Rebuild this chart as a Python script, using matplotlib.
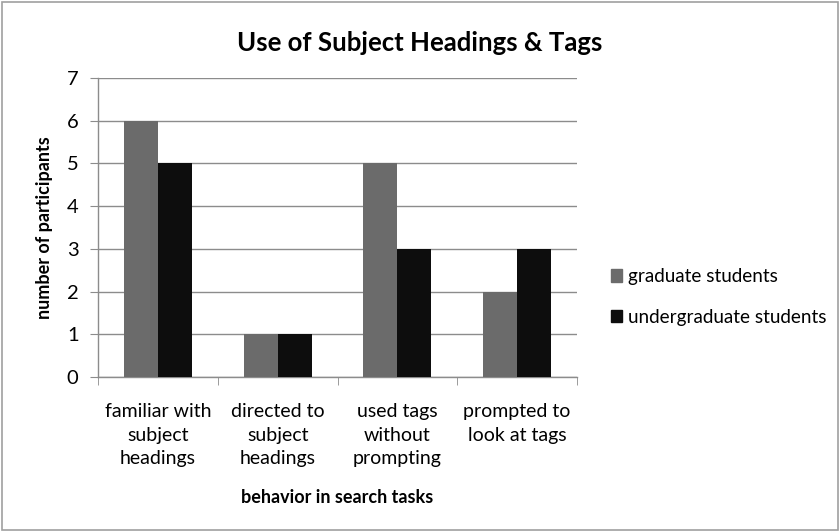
import matplotlib.pyplot as plt
from matplotlib.patches import Patch, Rectangle

plt.rcParams['font.family'] = ['Lato', 'DejaVu Sans']

categories = ['familiar with\nsubject\nheadings', 'directed to\nsubject\nheadings',
              'used tags\nwithout\nprompting', 'prompted to\nlook at tags']
graduate = [6, 1, 5, 2]
undergraduate = [5, 1, 3, 3]
series_names = ['graduate students', 'undergraduate students']
colors = ['#6b6b6b', '#0d0d0d']

fig = plt.figure(figsize=(8.4, 5.32), dpi=100)
fig.patches.append(Rectangle((0.002, 0.003), 0.996, 0.994, transform=fig.transFigure,
                             fill=False, edgecolor='#a0a0a0', linewidth=1.2))
ax = fig.add_axes([0.1167, 0.2914, 0.5702, 0.562])

w = 0.284
x = range(len(categories))
ax.bar([i - w / 2 for i in x], graduate, width=w, color=colors[0], zorder=3)
ax.bar([i + w / 2 for i in x], undergraduate, width=w, color=colors[1], zorder=3)

ax.set_xlim(-0.5, 3.5)
ax.set_ylim(0, 7)
ax.set_yticks(range(8))
ax.yaxis.grid(True, color='#8c8c8c', linewidth=1, zorder=0)
ax.set_axisbelow(True)

ax.set_xticks(list(x))
ax.set_xticklabels(categories, fontsize=14, linespacing=1.45)
ax.set_xticks([-0.5, 0.5, 1.5, 2.5, 3.5], minor=True)
ax.tick_params(axis='x', which='major', length=0, pad=19)
ax.tick_params(axis='x', which='minor', length=6, color='#8c8c8c', direction='out')
ax.tick_params(axis='y', length=6, color='#8c8c8c', labelsize=14.5, pad=8)

for s in ['top', 'right']:
    ax.spines[s].set_visible(False)
for s in ['left', 'bottom']:
    ax.spines[s].set_color('#8c8c8c')
    ax.spines[s].set_linewidth(1)

ax.set_ylabel('number of participants', fontsize=13, fontweight='bold', labelpad=10)
ax.set_xlabel('behavior in search tasks', fontsize=13, fontweight='bold', labelpad=16)
fig.text(0.5, 0.92, 'Use of Subject Headings & Tags', fontsize=18.5, fontweight='bold',
         ha='center', va='center')

handles = [Patch(color=c) for c in colors]
fig.legend(handles, series_names, loc='center left', bbox_to_anchor=(0.727, 0.442),
           frameon=False, fontsize=13.6, handlelength=0.62, handleheight=0.62,
           handletextpad=0.3, labelspacing=1.25, borderpad=0, borderaxespad=0)

fig.savefig('out.png', dpi=100)
